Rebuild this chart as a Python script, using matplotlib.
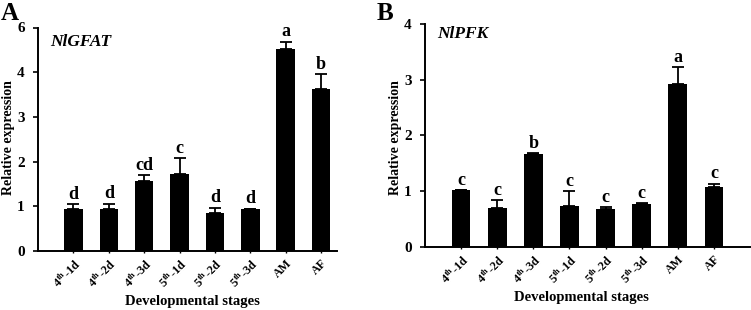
import matplotlib
matplotlib.use('Agg')
import matplotlib.pyplot as plt

plt.rcParams['font.family'] = ['Liberation Serif', 'DejaVu Serif']
plt.rcParams['font.weight'] = 'bold'
plt.rcParams['mathtext.fontset'] = 'custom'
plt.rcParams['mathtext.rm'] = 'Liberation Serif:bold'
plt.rcParams['mathtext.it'] = 'Liberation Serif:bold:italic'
plt.rcParams['mathtext.bf'] = 'Liberation Serif:bold'

stages = [r'4$^{\mathrm{th}}$-1d', r'4$^{\mathrm{th}}$-2d', r'4$^{\mathrm{th}}$-3d',
          r'5$^{\mathrm{th}}$-1d', r'5$^{\mathrm{th}}$-2d', r'5$^{\mathrm{th}}$-3d',
          'AM', 'AF']

# NlGFAT (panel A)
gfat_mean = [0.93, 0.93, 1.57, 1.73, 0.84, 0.93, 4.51, 3.62]
gfat_err = [0.12, 0.13, 0.12, 0.34, 0.13, 0.02, 0.17, 0.33]
gfat_sig = ['d', 'd', 'cd', 'c', 'd', 'd', 'a', 'b']
gfat_yticks = [0, 1, 2, 3, 4, 5]
gfat_yticklabels = ['0', '1', '2', '3', '4', '6']

# NlPFK (panel B)
pfk_mean = [1.01, 0.70, 1.67, 0.73, 0.68, 0.77, 2.93, 1.08]
pfk_err = [0.01, 0.13, 0.01, 0.27, 0.03, 0.01, 0.29, 0.05]
pfk_sig = ['c', 'c', 'b', 'c', 'c', 'c', 'a', 'c']
pfk_yticks = [0, 1, 2, 3, 4]
pfk_yticklabels = ['0', '1', '2', '3', '4']

fig = plt.figure(figsize=(7.51, 3.10), dpi=100)
W, H = 751, 310


def make_axes(left, right, top, bottom):
    return fig.add_axes([left / W, 1 - bottom / H, (right - left) / W, (bottom - top) / H])


def draw_panel(ax, means, errs, sigs, yticks, yticklabels, ymax, xmax, gene, letter,
               letter_xy, gene_xy, ylabel_x, xlabel_xy):
    x = list(range(len(means)))
    ax.bar(x, means, width=0.52, color='black')
    ax.errorbar(x, means, yerr=[[0] * len(errs), errs], fmt='none', ecolor='black',
                elinewidth=1.3, capsize=4.3, capthick=1.3)
    for xi, m, e, s in zip(x, means, errs, sigs):
        ax.annotate(s, (xi, m + e), xytext=(0, 1), textcoords='offset points',
                    ha='center', va='bottom', fontsize=13, fontweight='bold')
    ax.set_xlim(-1, xmax)
    ax.set_ylim(0, ymax)
    ax.set_yticks(yticks)
    ax.set_yticklabels(yticklabels, fontsize=11, fontweight='bold')
    ax.set_xticks(x)
    ax.set_xticklabels(stages, rotation=45, ha='right', rotation_mode='anchor',
                       fontsize=8.7, fontweight='bold')
    ax.tick_params(axis='y', direction='out', length=3.5, width=1.2, pad=6)
    ax.tick_params(axis='x', direction='out', length=1.5, width=1, pad=3)
    for side in ['top', 'right']:
        ax.spines[side].set_visible(False)
    for side in ['left', 'bottom']:
        ax.spines[side].set_linewidth(1.4)
    fig.text(xlabel_xy[0] / W, 1 - xlabel_xy[1] / H, 'Developmental stages',
             ha='center', va='center', fontsize=10.5, fontweight='bold')
    fig.text(ylabel_x / W, 1 - 138 / H, 'Relative expression', rotation=90,
             ha='center', va='center', fontsize=10, fontweight='bold')
    fig.text(gene_xy[0] / W, 1 - gene_xy[1] / H, gene, fontsize=12.5,
             fontweight='bold', fontstyle='italic', ha='left', va='center')
    fig.text(letter_xy[0] / W, 1 - letter_xy[1] / H, letter, fontsize=18,
             fontweight='bold', ha='left', va='center')


axA = make_axes(38, 337, 27.5, 251)
draw_panel(axA, gfat_mean, gfat_err, gfat_sig, gfat_yticks, gfat_yticklabels,
           5, 7.45, 'NlGFAT', 'A', (1, 14), (50, 42), 9, (192, 301))

axB = make_axes(425, 750, 24, 246.7)
draw_panel(axB, pfk_mean, pfk_err, pfk_sig, pfk_yticks, pfk_yticklabels,
           4, 8.0, 'NlPFK', 'B', (377, 14), (437, 34), 395, (581, 298))

fig.savefig('out.png', dpi=100)
